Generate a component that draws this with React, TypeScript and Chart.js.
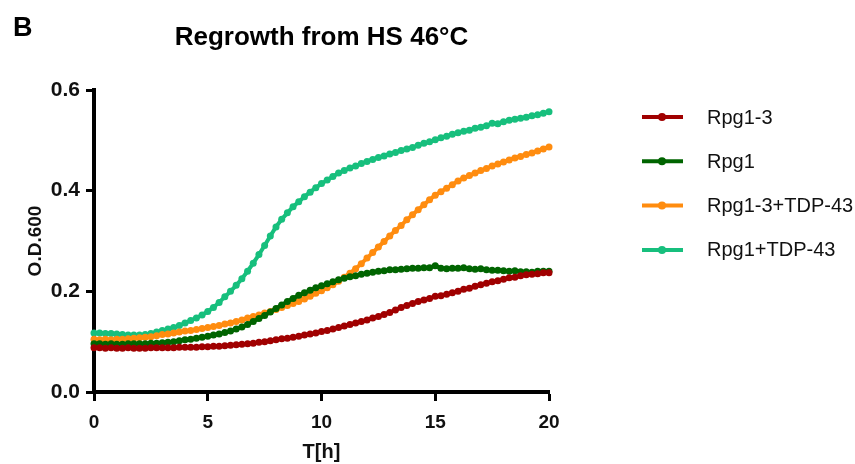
import React, { useEffect, useRef } from "react";
import { Chart, registerables } from "chart.js";

Chart.register(...registerables);

const times = [
  0, 0.25, 0.5, 0.75, 1, 1.25, 1.5, 1.75, 2, 2.25, 2.5, 2.75, 3, 3.25, 3.5, 3.75,
  4, 4.25, 4.5, 4.75, 5, 5.25, 5.5, 5.75, 6, 6.25, 6.5, 6.75, 7, 7.25, 7.5, 7.75,
  8, 8.25, 8.5, 8.75, 9, 9.25, 9.5, 9.75, 10, 10.25, 10.5, 10.75, 11, 11.25, 11.5, 11.75,
  12, 12.25, 12.5, 12.75, 13, 13.25, 13.5, 13.75, 14, 14.25, 14.5, 14.75, 15, 15.25, 15.5, 15.75,
  16, 16.25, 16.5, 16.75, 17, 17.25, 17.5, 17.75, 18, 18.25, 18.5, 18.75, 19, 19.25, 19.5, 19.75, 20,
];

const rpg13 = [
  0.088, 0.088, 0.087, 0.088, 0.087,
  0.087, 0.088, 0.087, 0.087,
  0.087, 0.088, 0.088, 0.088,
  0.088, 0.088, 0.089, 0.089,
  0.089, 0.089, 0.09, 0.09,
  0.091, 0.091, 0.092, 0.093,
  0.094, 0.095, 0.096, 0.097,
  0.099, 0.1, 0.102, 0.104,
  0.106, 0.107, 0.109, 0.111,
  0.113, 0.115, 0.117, 0.12,
  0.122, 0.125, 0.128, 0.131,
  0.134, 0.137, 0.14, 0.143,
  0.147, 0.15, 0.154, 0.158,
  0.163, 0.168, 0.172, 0.176,
  0.18, 0.183, 0.186, 0.19,
  0.191, 0.194, 0.197, 0.2,
  0.204, 0.206, 0.21, 0.213,
  0.216, 0.219, 0.221, 0.224,
  0.227, 0.228, 0.231, 0.233,
  0.234, 0.235, 0.237, 0.237,
];

const rpg1 = [
  0.096, 0.096, 0.095, 0.096, 0.095,
  0.095, 0.096, 0.096, 0.096,
  0.096, 0.097, 0.097, 0.098,
  0.099, 0.1, 0.102, 0.104,
  0.105, 0.107, 0.109, 0.111,
  0.113, 0.115, 0.118, 0.121,
  0.125, 0.129, 0.134, 0.14,
  0.146, 0.152, 0.159, 0.166,
  0.173, 0.18, 0.186, 0.192,
  0.197, 0.202, 0.207, 0.211,
  0.215, 0.219, 0.223, 0.226,
  0.229, 0.231, 0.234, 0.236,
  0.238, 0.24, 0.241, 0.243,
  0.243, 0.244, 0.245, 0.246,
  0.246, 0.247, 0.247, 0.251,
  0.246, 0.245, 0.246, 0.246,
  0.247, 0.245, 0.244, 0.245,
  0.243, 0.242, 0.242, 0.241,
  0.24, 0.241, 0.239, 0.239,
  0.238, 0.24, 0.24, 0.24,
];

const rpg13Tdp = [
  0.105, 0.104, 0.105, 0.104, 0.105,
  0.105, 0.106, 0.107, 0.108,
  0.109, 0.11, 0.112, 0.114,
  0.115, 0.117, 0.119, 0.121,
  0.122, 0.124, 0.126, 0.128,
  0.13, 0.132, 0.135, 0.137,
  0.14, 0.143, 0.147, 0.15,
  0.153, 0.157, 0.16, 0.164,
  0.168, 0.172, 0.176, 0.18,
  0.185, 0.19, 0.196, 0.201,
  0.207, 0.213, 0.22, 0.228,
  0.236, 0.245, 0.255, 0.266,
  0.277, 0.288, 0.299, 0.31,
  0.321, 0.331, 0.342, 0.352,
  0.362, 0.372, 0.382, 0.391,
  0.398, 0.405, 0.412, 0.419,
  0.425, 0.43, 0.435, 0.44,
  0.444, 0.449, 0.453, 0.457,
  0.461, 0.465, 0.468, 0.472,
  0.475, 0.479, 0.483, 0.487,
];

const rpg1Tdp = [
  0.117, 0.117, 0.116, 0.116, 0.115,
  0.114, 0.113, 0.113, 0.113,
  0.114, 0.116, 0.119, 0.122,
  0.125, 0.128, 0.132, 0.137,
  0.142, 0.147, 0.153, 0.16,
  0.168, 0.178, 0.189, 0.2,
  0.212, 0.225, 0.24, 0.256,
  0.273, 0.291, 0.31, 0.328,
  0.343, 0.356, 0.368, 0.378,
  0.388, 0.397, 0.406, 0.414,
  0.421, 0.428, 0.435, 0.44,
  0.445, 0.449, 0.454, 0.458,
  0.462, 0.466, 0.469, 0.473,
  0.476, 0.48, 0.483, 0.486,
  0.49, 0.494, 0.497, 0.501,
  0.505, 0.508, 0.512, 0.515,
  0.518, 0.52, 0.524, 0.526,
  0.529, 0.534, 0.533, 0.537,
  0.54, 0.542, 0.544, 0.546,
  0.549, 0.551, 0.554, 0.557,
];

const seriesNames = ["Rpg1-3", "Rpg1", "Rpg1-3+TDP-43", "Rpg1+TDP-43"];
const seriesValues = [rpg13, rpg1, rpg13Tdp, rpg1Tdp];
const seriesColors = ["#a00000", "#006400", "#ff8c0f", "#17bf7d"];

const titleText = "Regrowth from HS 46°C";
const panelLabel = "B";
const xTitle = "T[h]";
const yTitle = "O.D.600";

const FONT = "'Liberation Sans', Arial, sans-serif";

const overlayPlugin = {
  id: "overlay",
  afterDraw(chart: any) {
    const ctx = chart.ctx;
    const area = chart.chartArea;
    ctx.save();
    ctx.fillStyle = "#000";
    ctx.textBaseline = "alphabetic";
    ctx.textAlign = "left";
    ctx.font = `bold 27px ${FONT}`;
    ctx.fillText(panelLabel, 13, 36);
    ctx.textAlign = "center";
    ctx.font = `bold 26px ${FONT}`;
    ctx.fillText(titleText, (area.left + area.right) / 2, 45);

    // legend
    chart.data.datasets.forEach((ds: any, i: number) => {
      const y = 117 + i * 44.3;
      ctx.strokeStyle = ds.borderColor;
      ctx.lineWidth = 4;
      ctx.beginPath();
      ctx.moveTo(642, y);
      ctx.lineTo(683, y);
      ctx.stroke();
      ctx.fillStyle = ds.pointBackgroundColor;
      ctx.beginPath();
      ctx.arc(662, y, 4, 0, Math.PI * 2);
      ctx.fill();
      ctx.fillStyle = "#111";
      ctx.font = `20px ${FONT}`;
      ctx.textAlign = "left";
      ctx.textBaseline = "middle";
      ctx.fillText(ds.label, 707, y + 1);
    });
    ctx.restore();
  },
};

export default function App() {
  const ref = useRef<HTMLCanvasElement | null>(null);

  useEffect(() => {
    document.body.style.margin = "0";
    const canvas = ref.current;
    if (!canvas) return;
    const datasets = seriesNames.map((name, i) => ({
      label: name,
      data: times.map((t, j) => ({ x: t, y: seriesValues[i][j] })),
      borderColor: seriesColors[i],
      backgroundColor: seriesColors[i],
      pointBackgroundColor: seriesColors[i],
      pointBorderWidth: 0,
      pointRadius: 3.5,
      borderWidth: 4,
      tension: 0,
      clip: false as any,
    }));
    const chart = new Chart(canvas, {
      type: "line",
      data: { datasets },
      plugins: [overlayPlugin],
      options: {
        animation: false,
        responsive: false,
        devicePixelRatio: 1,
        layout: { padding: { left: 0, right: 306, top: 90, bottom: 0 } },
        plugins: {
          legend: { display: false },
          title: { display: false },
          tooltip: { enabled: false },
        },
        scales: {
          x: {
            type: "linear",
            min: 0,
            max: 20,
            afterFit: (s: any) => {
              s.height = 72;
            },
            border: { display: true, color: "#000", width: 4 },
            grid: {
              drawOnChartArea: false,
              drawTicks: true,
              tickLength: 9,
              tickWidth: 3,
              tickColor: "#000",
            },
            ticks: {
              stepSize: 5,
              padding: 10,
              color: "#111",
              font: { family: FONT, size: 19, weight: "bold" },
              maxRotation: 0,
            },
            title: {
              display: true,
              text: xTitle,
              color: "#111",
              font: { family: FONT, size: 20, weight: "bold" },
              padding: { top: 0, bottom: 0 },
            },
          },
          y: {
            type: "linear",
            min: 0,
            max: 0.6,
            afterFit: (s: any) => {
              s.width = 94;
            },
            border: { display: true, color: "#000", width: 4 },
            grid: {
              drawOnChartArea: false,
              drawTicks: true,
              tickLength: 8,
              tickWidth: 3,
              tickColor: "#000",
            },
            ticks: {
              stepSize: 0.2,
              padding: 6,
              color: "#111",
              font: { family: FONT, size: 21, weight: "bold" },
              callback: (v: any) => Number(v).toFixed(1),
            },
            title: {
              display: true,
              text: yTitle,
              color: "#111",
              font: { family: FONT, size: 19, weight: "bold" },
              padding: { top: 24, bottom: 0 },
            },
          },
        },
      },
    });
    return () => chart.destroy();
  }, []);

  return <canvas ref={ref} width={855} height={464} style={{ display: "block" }} />;
}
